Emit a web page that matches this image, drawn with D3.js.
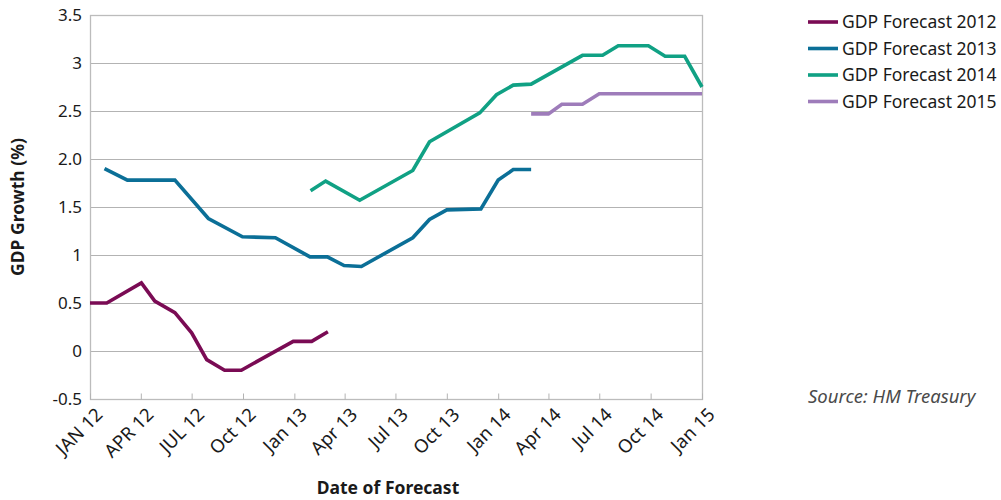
<!DOCTYPE html>
<html>
<head>
<meta charset="utf-8">
<script src="https://cdn.jsdelivr.net/npm/d3@7"></script>
<style>
  body { margin: 0; background: #fff; }
  text { font-family: "Noto Sans", "Open Sans", sans-serif; fill: #1a1a1a; }
</style>
</head>
<body>
<div id="chart"></div>
<script>
// series names + colours
var seriesNames = ["GDP Forecast 2012", "GDP Forecast 2013", "GDP Forecast 2014", "GDP Forecast 2015"];
var seriesColors = ["#7a0b54", "#0b6f97", "#10a184", "#9e7cba"];

// date of forecast / forecast value
var dates2012 = ["2012-01-01","2012-01-31","2012-04-02","2012-04-26","2012-06-01","2012-07-01","2012-07-28","2012-08-29","2012-09-28","2012-12-30","2013-02-01","2013-03-02"];
var values2012 = [0.5, 0.5, 0.71, 0.52, 0.4, 0.19, -0.09, -0.2, -0.2, 0.1, 0.1, 0.2];

var dates2013 = ["2012-01-27","2012-03-08","2012-06-01","2012-07-31","2012-09-30","2012-11-28","2013-01-29","2013-03-01","2013-03-31","2013-05-01","2013-08-01","2013-08-31","2013-10-01","2013-12-01","2014-01-01","2014-01-28","2014-03-01"];
var values2013 = [1.9, 1.78, 1.78, 1.38, 1.19, 1.18, 0.98, 0.98, 0.89, 0.88, 1.18, 1.37, 1.47, 1.48, 1.78, 1.89, 1.89];

var dates2014 = ["2013-01-30","2013-02-26","2013-04-28","2013-08-01","2013-08-31","2013-11-29","2013-12-29","2014-01-28","2014-03-01","2014-06-01","2014-07-07","2014-08-04","2014-09-27","2014-10-27","2014-12-01","2015-01-01"];
var values2014 = [1.67, 1.77, 1.57, 1.88, 2.18, 2.48, 2.67, 2.77, 2.78, 3.08, 3.08, 3.18, 3.18, 3.07, 3.07, 2.75];

var dates2015 = ["2014-03-01","2014-04-01","2014-04-25","2014-06-01","2014-07-01","2015-01-01"];
var values2015 = [2.47, 2.47, 2.57, 2.57, 2.68, 2.68];

// axis ticks
var xTickDates = ["2012-01-01","2012-04-01","2012-07-01","2012-10-01","2013-01-01","2013-04-01","2013-07-01","2013-10-01","2014-01-01","2014-04-01","2014-07-01","2014-10-01","2015-01-01"];
var xTickLabels = ["JAN 12","APR 12","JUL 12","Oct 12","Jan 13","Apr 13","Jul 13","Oct 13","Jan 14","Apr 14","Jul 14","Oct 14","Jan 15"];
var yTickValues = [-0.5, 0, 0.5, 1, 1.5, 2, 2.5, 3, 3.5];
var yTickLabels = ["-0.5", "0", "0.5", "1", "1.5", "2.0", "2.5", "3", "3.5"];

var parse = d3.timeParse("%Y-%m-%d");

var allDates = [dates2012, dates2013, dates2014, dates2015];
var allValues = [values2012, values2013, values2014, values2015];
var series = seriesNames.map(function(name, i) {
    return {
        name: name,
        color: seriesColors[i],
        points: allDates[i].map(function(d, j) { return { date: parse(d), value: allValues[i][j] }; })
    };
});

var width = 1001, height = 500;
var plotLeft = 90, plotRight = 702, plotTop = 15, plotBottom = 399;

var svg = d3.select("#chart").append("svg")
    .attr("width", width)
    .attr("height", height);

var x = d3.scaleTime()
    .domain([parse("2012-01-01"), parse("2015-01-01")])
    .range([plotLeft, plotRight]);

var y = d3.scaleLinear()
    .domain([-0.5, 3.5])
    .range([plotBottom, plotTop]);

// horizontal gridlines
svg.append("g")
    .selectAll("line")
    .data(yTickValues.slice(1, -1))
    .enter()
    .append("line")
    .attr("x1", plotLeft)
    .attr("x2", plotRight)
    .attr("y1", function(d) { return Math.round(y(d)) + 0.5; })
    .attr("y2", function(d) { return Math.round(y(d)) + 0.5; })
    .style("stroke", "#b3b3b3")
    .style("stroke-width", 1);

// plot frame
svg.append("rect")
    .attr("x", plotLeft + 0.5)
    .attr("y", plotTop + 0.5)
    .attr("width", plotRight - plotLeft)
    .attr("height", plotBottom - plotTop)
    .style("fill", "none")
    .style("stroke", "#bcbcbc")
    .style("stroke-width", 1.3);

// y axis
var yAxis = d3.axisLeft(y)
    .tickValues(yTickValues)
    .tickSize(0)
    .tickPadding(8)
    .tickFormat(function(d, i) { return yTickLabels[i]; });

var yg = svg.append("g")
    .attr("transform", "translate(" + plotLeft + ",0)")
    .call(yAxis);
yg.select(".domain").remove();
yg.selectAll("text")
    .style("font-size", "17px")
    .style("fill", "#1a1a1a");

// x axis
var xAxis = d3.axisBottom(x)
    .tickValues(xTickDates.map(parse))
    .tickSize(6)
    .tickFormat(function(d, i) { return xTickLabels[i]; });

var xg = svg.append("g")
    .attr("transform", "translate(0," + (plotBottom + 0.5) + ")")
    .call(xAxis);
xg.select(".domain").remove();
xg.selectAll(".tick line")
    .style("stroke", "#b3b3b3")
    .attr("y1", -6)
    .attr("y2", 0);
xg.selectAll("text")
    .style("font-size", "18.5px")
    .style("fill", "#1a1a1a")
    .style("text-anchor", "end")
    .attr("dx", "0")
    .attr("dy", "0")
    .attr("transform", "translate(7,10) rotate(-45)");

// lines
var line = d3.line()
    .x(function(d) { return x(d.date); })
    .y(function(d) { return y(d.value); });

svg.append("g")
    .selectAll("path")
    .data(series)
    .enter()
    .append("path")
    .attr("d", function(d) { return line(d.points); })
    .style("fill", "none")
    .style("stroke", function(d) { return d.color; })
    .style("stroke-width", 3.6)
    .style("stroke-linejoin", "miter");

// axis titles
svg.append("text")
    .attr("transform", "translate(24," + ((plotTop + plotBottom) / 2) + ") rotate(-90)")
    .attr("text-anchor", "middle")
    .style("font-size", "17.5px")
    .style("font-weight", "bold")
    .text("GDP Growth (%)");

svg.append("text")
    .attr("x", 388)
    .attr("y", 494)
    .attr("text-anchor", "middle")
    .style("font-size", "17.5px")
    .style("font-weight", "bold")
    .text("Date of Forecast");

// legend
var legend = svg.append("g");
legend.selectAll("line")
    .data(series)
    .enter()
    .append("line")
    .attr("x1", 808)
    .attr("x2", 838)
    .attr("y1", function(d, i) { return 22 + i * 26.5; })
    .attr("y2", function(d, i) { return 22 + i * 26.5; })
    .style("stroke", function(d) { return d.color; })
    .style("stroke-width", 3.6);

legend.selectAll("text")
    .data(series)
    .enter()
    .append("text")
    .attr("x", 842)
    .attr("y", function(d, i) { return 28 + i * 26.5; })
    .style("font-size", "17.5px")
    .text(function(d) { return d.name; });

svg.append("text")
    .attr("x", 808)
    .attr("y", 403)
    .style("font-size", "18.5px")
    .style("font-style", "italic")
    .style("fill", "#4a4a4a")
    .text("Source: HM Treasury");
</script>
</body>
</html>
